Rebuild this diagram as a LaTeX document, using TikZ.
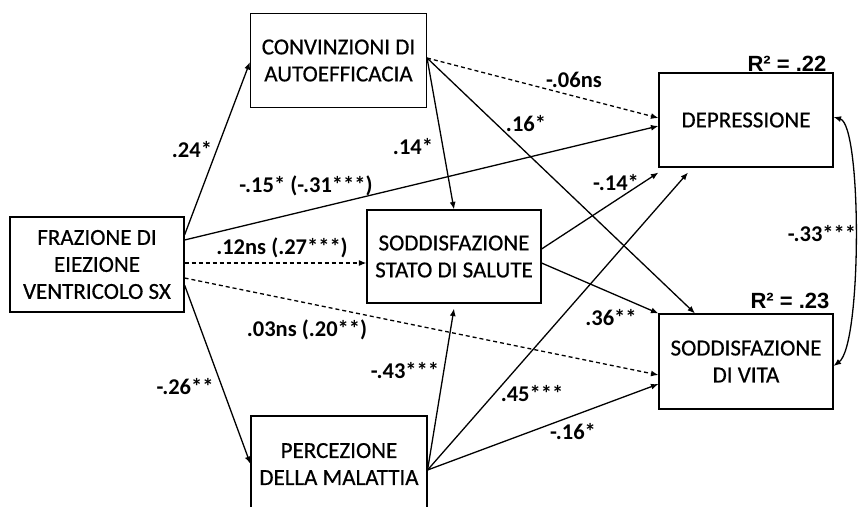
\documentclass[tikz,border=0pt]{standalone}
\usepackage{fontspec}
\setmainfont{Carlito}
\newfontfamily\boxfont[FakeBold=0.5]{Carlito}
\newfontfamily\rsqfont{Liberation Sans}
\usetikzlibrary{arrows.meta}

\begin{document}
\begin{tikzpicture}[x=1pt,y=-1pt,
  box/.style={draw, line width=1.1pt, minimum width=174pt, minimum height=95pt,
    inner sep=0pt, align=center, font=\boxfont\fontsize{23}{27}\selectfont},
  coef/.style={font=\fontsize{22.5}{26}\selectfont\bfseries, inner sep=0pt,
    text height=14pt, text depth=0pt},
  rsq/.style={font=\rsqfont\fontsize{22}{26}\selectfont\bfseries, inner sep=0pt,
    text height=16pt, text depth=0pt},
  link/.style={line width=1.3pt, -{Latex[length=7.5pt,width=6pt]}},
  nslink/.style={link, dash pattern=on 4pt off 3pt}]

\useasboundingbox (0,0) rectangle (859,506);
\clip (0,0) rectangle (859,506);

% variables
\node[box, minimum width=176pt, minimum height=94pt] (conv) at (338.5,60.5) {CONVINZIONI DI\\AUTOEFFICACIA};
\node[box] (fraz) at (97,264.5) {FRAZIONE DI\\EIEZIONE\\VENTRICOLO SX};
\node[box, minimum height=93pt] (sodd) at (454,256.5) {SODDISFAZIONE\\STATO DI SALUTE};
\node[box, minimum width=176pt, minimum height=96pt] (perc) at (339,464) {PERCEZIONE\\DELLA MALATTIA};
\node[box, minimum height=94pt] (depr) at (746,120) {DEPRESSIONE};
\node[box] (svita) at (746,361.5) {SODDISFAZIONE\\DI VITA};

% paths from ejection fraction
\draw[link]   ([yshift=29.5pt]fraz.east) -- ([yshift=-1.5pt]conv.west);
\draw[link]   ([yshift=24.5pt]fraz.east) -- ([yshift=-6pt]depr.west);
\draw[nslink] ([yshift=1.5pt]fraz.east) -- ([yshift=-6.5pt]sodd.west);
\draw[nslink] ([yshift=-13.5pt]fraz.east) -- ([yshift=-13.5pt]svita.west);
\draw[link]   ([yshift=-20.5pt]fraz.east) -- (perc.west);

% paths from self-efficacy
\draw[nslink] ([yshift=2.5pt]conv.east) -- ([yshift=2pt]depr.west);
\draw[link]   ([yshift=2.5pt]conv.east) -- ([xshift=-51pt]svita.north);
\draw[link]   ([yshift=2.5pt]conv.east) -- (sodd.north);

% paths from health satisfaction
\draw[link] ([yshift=7.5pt]sodd.east) -- ([yshift=-5pt]depr.south west);
\draw[link] ([yshift=-6.5pt]sodd.east) -- (svita.north west);

% paths from illness perception
\draw[link] ([yshift=-6pt]perc.east) -- ([yshift=-5pt]sodd.south);
\draw[link] ([yshift=-6pt]perc.east) -- ([xshift=-58pt,yshift=-5pt]depr.south);
\draw[link] ([yshift=-6pt]perc.east) -- ([yshift=-22.5pt]svita.west);

% residual correlation
\draw[line width=1.3pt, {Latex[length=7.5pt,width=6pt]}-{Latex[length=7.5pt,width=6pt]}]
  ([yshift=3pt]depr.east) .. controls (862,125) and (862,345) .. ([yshift=-4.5pt]svita.east);

% coefficients
\node[coef] (c1)  at (192,150) {.24*};
\node[coef] (c2)  at (306,185) {-.15* (-.31***)};
\node[coef] (c3)  at (413,147) {.14*};
\node[coef] (c4)  at (282,247) {.12ns (.27***)};
\node[coef] (c5)  at (307,329) {.03ns (.20**)};
\node[coef] (c6)  at (185,387) {-.26**};
\node[coef] (c7)  at (405,371) {-.43***};
\node[coef] (c8)  at (574,80)  {-.06ns};
\node[coef] (c9)  at (526,124) {.16*};
\node[coef] (c10) at (616,183) {-.14*};
\node[coef] (c11) at (822,234) {-.33***};
\node[coef] (c12) at (611,318) {.36**};
\node[coef] (c13) at (532,394) {.45***};
\node[coef] (c14) at (573,432) {-.16*};

\node[rsq] (r1) at (787,63)  {R² = .22};
\node[rsq] (r2) at (790,300) {R² = .23};
\end{tikzpicture}
\end{document}
